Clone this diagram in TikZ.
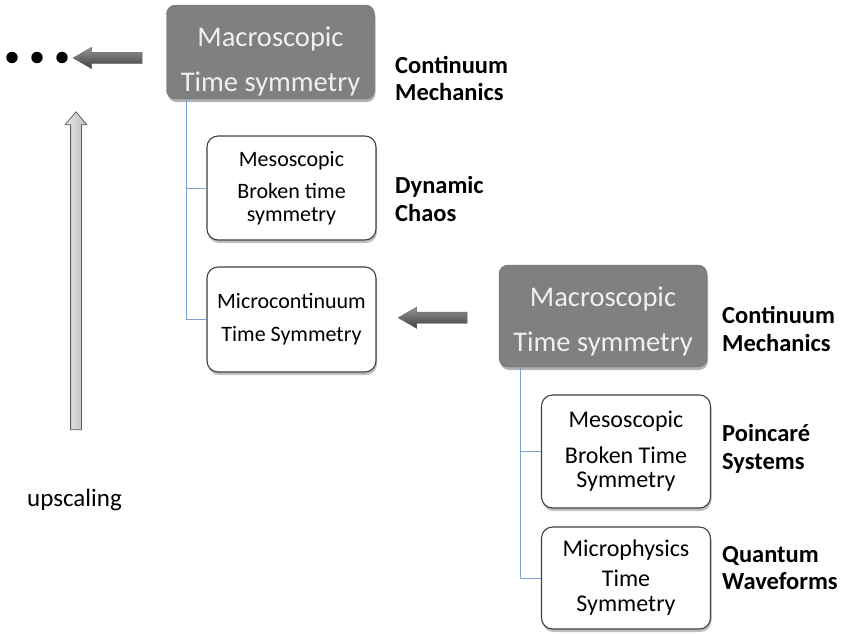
\documentclass[tikz,border=0pt]{standalone}
\usepackage{fontspec}
\setmainfont{Carlito}
\usetikzlibrary{shapes.arrows,shadows,calc}

\definecolor{treeblue}{RGB}{122,162,212}

\begin{document}
\begin{tikzpicture}[
	x=1pt, y=1pt,
	macro/.style = {
		draw=black!58, fill=black!50, rectangle, rounded corners=9pt,
		align=center, text=white!94!black, inner sep=0pt,
		font=\fontsize{28.5}{30}\selectfont,
		minimum width=208pt,
		drop shadow={shadow xshift=1pt, shadow yshift=-3pt,
			fill=black!30, opacity=1}},
	sub/.style = {
		draw=black!75, fill=white, rectangle, rounded corners=11pt,
		align=center, line width=1.1pt, inner sep=0pt,
		minimum width=169pt,
		drop shadow={shadow xshift=1pt, shadow yshift=-3pt,
			fill=black!25, opacity=1}},
	lbl/.style = {
		anchor=west, align=left, inner sep=0pt,
		font=\bfseries\fontsize{24.5}{27.5}\selectfont},
	tree/.style = {draw=treeblue, line width=1pt},
	fatarrow/.style = {
		single arrow, single arrow tip angle=60,
		single arrow head extend=5pt, inner sep=5.5pt,
		minimum height=69pt, shape border rotate=180,
		top color=black!42, bottom color=black!75,
		draw=black!60, line width=.4pt}
]
\useasboundingbox (0,0) rectangle (841,-633);

% left column
\node (B1) [macro, minimum height=94pt] at (270.5,-52)
	{\rule{0pt}{39pt}Macroscopic\\[15pt]Time symmetry};
\node (M1) [sub, minimum height=104pt,
	font=\fontsize{22}{23}\selectfont] at (291.5,-188)
	{Mesoscopic\\[9pt]Broken time\\symmetry};
\node (M2) [sub, minimum height=105pt,
	font=\fontsize{22}{22}\selectfont] at (291.5,-319.5)
	{Microcontinuum\\[11pt]Time Symmetry};

\node (c1) [lbl] at (395,-78.5) {Continuum\\Mechanics};
\node (c2) [lbl] at (395,-199)  {Dynamic\\Chaos};

% right column
\node (B2) [macro, minimum height=102pt] at (603,-316)
	{\rule{0pt}{30pt}Macroscopic\\[15pt]Time symmetry};
\node (M3) [sub, minimum height=113pt,
	font=\fontsize{24}{24}\selectfont] at (626,-451.5)
	{Mesoscopic\\[12pt]Broken Time\\Symmetry};
\node (M4) [sub, minimum height=102pt,
	font=\fontsize{24}{25}\selectfont] at (626,-578)
	{Microphysics\\[5pt]Time\\Symmetry};

\node (c3) [lbl] at (722,-329) {Continuum\\Mechanics};
\node (c4) [lbl] at (722,-449) {Poincar\'e\\Systems};
\node (c5) [lbl] at (722,-568) {Quantum\\Waveforms};

% tree lines
\draw[tree] ([xshift=20pt]B1.south west) |- (M1.west);
\draw[tree] ([xshift=20pt]B1.south west) |- (M2.west);
\draw[tree] ([xshift=22pt]B2.south west) |- (M3.west);
\draw[tree] ([xshift=22pt]B2.south west) |- (M4.west);

% fat arrows
\node (arr1) [fatarrow] at (112.5,-58) {};
\node (arr2) [fatarrow] at ($(M2.east)!.5!(B2.west)$) {};
\foreach \dx in {12,37,62}
	\fill (\dx,-57.5) circle (5.7);

\node (up) [single arrow, single arrow tip angle=80,
	single arrow head extend=5.5pt, inner sep=5pt,
	minimum height=318pt, shape border rotate=90,
	left color=black!10, right color=black!26,
	draw=black!62, line width=.8pt] at (76,-274) {};
\node (upl) [font=\fontsize{25}{25}\selectfont] at (74.5,-500) {upscaling};
\end{tikzpicture}
\end{document}
